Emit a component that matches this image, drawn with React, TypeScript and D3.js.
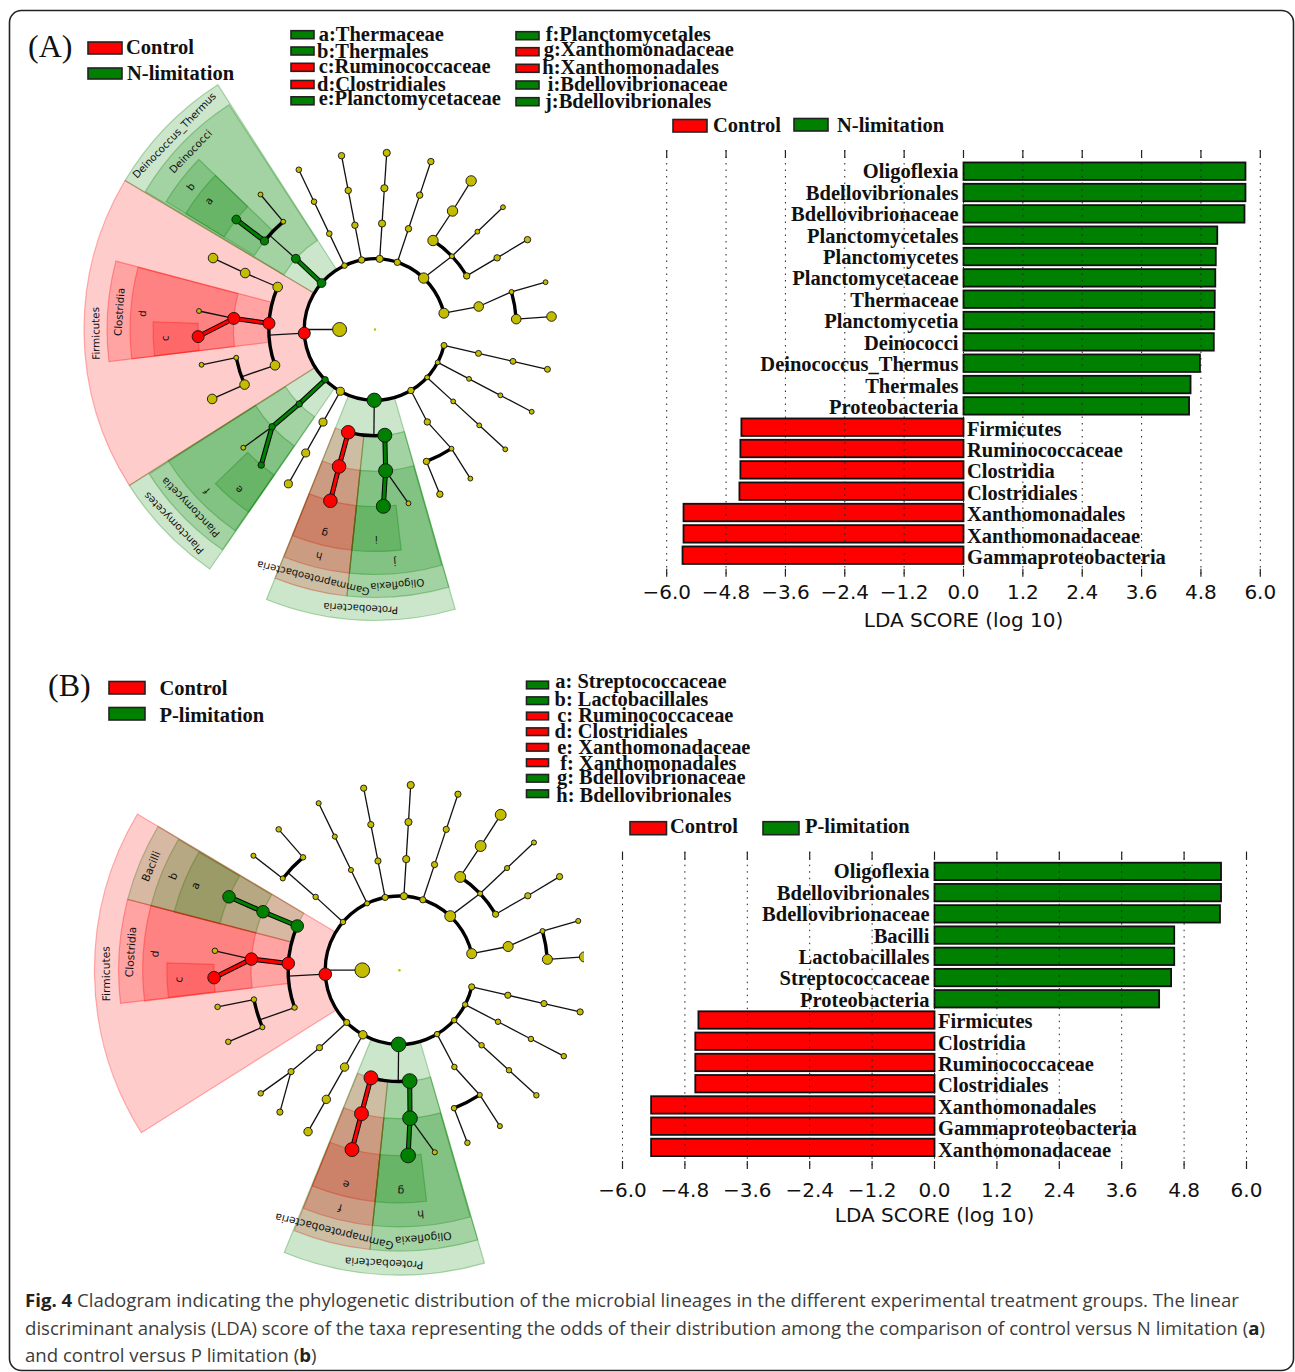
import React from 'react';
import * as d3 from 'd3';

const RED = '#ff0000';
const GREEN = '#008000';
const YELLOW = '#c4bc00';
const SERIF = '"Liberation Serif", serif';
const SANS = '"DejaVu Sans", sans-serif';

// LDA scores, top bar first
const taxaA = ['Oligoflexia', 'Bdellovibrionales', 'Bdellovibrionaceae', 'Planctomycetales', 'Planctomycetes', 'Planctomycetaceae', 'Thermaceae', 'Planctomycetia', 'Deinococci', 'Deinococcus_Thermus', 'Thermales', 'Proteobacteria', 'Firmicutes', 'Ruminococcaceae', 'Clostridia', 'Clostridiales', 'Xanthomonadales', 'Xanthomonadaceae', 'Gammaproteobacteria'];
const scoresA = [5.7, 5.7, 5.68, 5.13, 5.1, 5.09, 5.08, 5.07, 5.06, 4.78, 4.59, 4.56, -4.49, -4.51, -4.51, -4.53, -5.66, -5.66, -5.68];
const taxaB = ['Oligoflexia', 'Bdellovibrionales', 'Bdellovibrionaceae', 'Bacilli', 'Lactobacillales', 'Streptococcaceae', 'Proteobacteria', 'Firmicutes', 'Clostridia', 'Ruminococcaceae', 'Clostridiales', 'Xanthomonadales', 'Gammaproteobacteria', 'Xanthomonadaceae'];
const scoresB = [5.51, 5.51, 5.49, 4.61, 4.61, 4.55, 4.32, -4.54, -4.6, -4.6, -4.6, -5.45, -5.45, -5.45];
const ldaTicks = [-6, -4.8, -3.6, -2.4, -1.2, 0, 1.2, 2.4, 3.6, 4.8, 6];

const cladeKeyA = [['a:Thermaceae', 'g'], ['b:Thermales', 'g'], ['c:Ruminococcaceae', 'r'], ['d:Clostridiales', 'r'], ['e:Planctomycetaceae', 'g']];
const cladeKeyA2 = [['f:Planctomycetales', 'g'], ['g:Xanthomonadaceae', 'r'], ['h:Xanthomonadales', 'r'], ['i:Bdellovibrionaceae', 'g'], ['j:Bdellovibrionales', 'g']];
const cladeKeyB = [['a: Streptococcaceae', 'g'], ['b: Lactobacillales', 'g'], ['c: Ruminococcaceae', 'r'], ['d: Clostridiales', 'r'], ['e: Xanthomonadaceae', 'r'], ['f: Xanthomonadales', 'r'], ['g: Bdellovibrionaceae', 'g'], ['h: Bdellovibrionales', 'g']];

type Clade = { a: number; s: number; kids?: Clade[]; c?: string; j?: number };
// a = compass angle (deg, unwrapped), s = abundance, c = enriched class, j = where the parent's stem meets the arc over its kids
const n = (a: number, s: number, kids: Clade[] = [], c?: string, j?: number): Clade => ({ a, s, kids, c, j });
// unbranched lineage from a phylum down to the outer level
const path4 = (a: number, s: number) => n(a, s, [n(a, s, [n(a, s, [n(a, s)])])]);

const cladeA = n(0, 3, [n(270, 100, [
  path4(103, 18),
  path4(117.7, 12),
  path4(132.6, 12),
  n(149.5, 21, [n(150.5, 21, [n(147.3, 12, [n(147.4, 12)]), n(158.7, 21, [n(158.5, 21)])], undefined, 147.3)]),
  n(180.6, 105, [
    n(174.7, 100, [n(175.7, 100, [n(169.1, 12), n(177.3, 100, [], 'g')], 'g')], 'g'),
    n(194.6, 94, [n(194.7, 94, [n(194.6, 94, [], 'r')], 'r')], 'r'),
  ], 'g', 180.6),
  path4(209.3, 33),
  n(224.8, 21, [n(225.5, 21, [n(226.6, 21, [n(228.1, 12), n(220, 21, [], 'g')], 'g')], 'g')], 'g'),
  n(267, 73, [
    n(250.3, 47, [n(247.1, 47, [n(246.9, 47)]), n(258.5, 12, [n(258.5, 12)])], undefined, 250.5),
    n(273.3, 73, [n(274.5, 73, [n(267.7, 73, [], 'r'), n(276, 12)], 'r')], 'r'),
    n(293.6, 47, [n(293.5, 47, [n(293.8, 47)])]),
  ], 'r', 267),
  n(311, 39, [n(311.8, 39, [n(308.7, 33, [n(308.4, 39, [], 'g')], 'g'), n(319.6, 12, [n(319.7, 12)])], 'g', 311.8)], 'g'),
  path4(334.5, 16),
  path4(349.1, 21),
  path4(363.8, 26),
  path4(378.4, 21),
  n(403.4, 55, [
    n(393.1, 55, [n(393.2, 55, [n(392.9, 55)])]),
    n(406.4, 12, [n(406.3, 12, [n(406.3, 12)])]),
    n(419.7, 21, [n(419.6, 21, [n(419.5, 21)])]),
  ], undefined, 406.4),
  n(436.7, 51, [n(437.5, 47, [n(434.6, 12, [n(434.5, 12)]), n(445.8, 47, [n(445.8, 47)])], undefined, 434.6)]),
], undefined, 270)]);

const cladeB = n(0, 3, [n(270, 100, [
  path4(103, 18),
  path4(117.6, 14),
  path4(132.4, 14),
  n(149.5, 14, [n(150.4, 14, [n(147.2, 12, [n(147.2, 12)]), n(158.4, 14, [n(158.5, 14)])], undefined, 147.2)]),
  n(180.6, 100, [
    n(174.7, 100, [n(175.9, 100, [n(169, 12), n(177.3, 100, [], 'g')], 'g')], 'g'),
    n(194.8, 90, [n(194.8, 90, [n(194.8, 90, [], 'r')], 'r')], 'r'),
  ], 'g', 180.6),
  path4(209.5, 33),
  n(225.2, 18, [n(225.9, 18, [n(226.9, 18, [n(228.4, 14), n(220.1, 18)])])]),
  n(266.9, 73, [
    n(250.4, 14, [n(247.4, 12, [n(247.3, 14)]), n(258.6, 14, [n(258.6, 14)])], undefined, 250.4),
    n(273.5, 73, [n(274.3, 73, [n(267.7, 73, [], 'r'), n(276, 14)], 'r')], 'r'),
    n(293.4, 73, [n(293.2, 73, [n(293.3, 73, [], 'g')], 'g')], 'g'),
  ], 'r', 266.9),
  n(310.5, 14, [n(311.2, 14, [n(308.2, 12, [n(308.1, 12)]), n(319.5, 14, [n(319.4, 14)])], undefined, 311.2)]),
  path4(334.2, 12),
  path4(348.9, 18),
  path4(363.5, 24),
  path4(378.4, 18),
  n(403.2, 55, [
    n(393.1, 55, [n(393.2, 55, [n(393.1, 55)])]),
    n(406.5, 12, [n(406.5, 12, [n(406.5, 12)])]),
    n(419.8, 18, [n(419.9, 18, [n(419.7, 18)])]),
  ], undefined, 406.5),
  n(437.1, 47, [n(437.7, 47, [n(434.7, 12, [n(434.6, 12)]), n(445.8, 47, [n(445.9, 47)])], undefined, 434.7)]),
], undefined, 270)]);

type Sector = [string, number, number, number, string];
// label, start angle, end angle, taxonomic level, class
const sectorsA: Sector[] = [
  ['Firmicutes', 237.6, 300.8, 2, 'r'], ['Deinococcus_Thermus', 300.8, 327.3, 2, 'g'], ['Planctomycetes', 214.6, 237.6, 2, 'g'], ['Proteobacteria', 164, 201.9, 2, 'g'],
  ['Clostridia', 263.1, 284.8, 3, 'r'], ['Deinococci', 301, 327, 3, 'g'], ['Planctomycetia', 214.7, 237.4, 3, 'g'], ['Gammaproteobacteria', 186, 201.9, 3, 'r'], ['Oligoflexia', 164, 186, 3, 'g'],
  ['d', 263.1, 284.7, 4, 'r'], ['b', 301.5, 314, 4, 'g'], ['f', 214.8, 237.6, 4, 'g'], ['h', 186, 201.8, 4, 'r'], ['j', 164.2, 186, 4, 'g'],
  ['c', 263.2, 272, 5, 'r'], ['a', 301.5, 314, 5, 'g'], ['e', 214.7, 226, 5, 'g'], ['g', 186, 201.8, 5, 'r'], ['i', 173.2, 186, 5, 'g'],
];
const sectorsB: Sector[] = [
  ['Firmicutes', 237.8, 300.8, 2, 'r'], ['Proteobacteria', 163.8, 202.2, 2, 'g'],
  ['Bacilli', 284.6, 300.8, 3, 'g'], ['Clostridia', 263.2, 284.6, 3, 'r'], ['Gammaproteobacteria', 186, 202, 3, 'r'], ['Oligoflexia', 163.8, 186, 3, 'g'],
  ['b', 284.5, 300.6, 4, 'g'], ['d', 263.1, 284.6, 4, 'r'], ['f', 186, 202, 4, 'r'], ['h', 164, 186, 4, 'g'],
  ['a', 284.5, 300.5, 5, 'g'], ['c', 263.3, 271.8, 5, 'r'], ['e', 186, 202, 5, 'r'], ['g', 173.3, 186, 5, 'g'],
];

const colour = (c?: string) => (c === 'r' ? RED : c === 'g' ? GREEN : YELLOW);
const rad = (deg: number) => (deg * Math.PI) / 180;
const ringArc = d3.arc<any>();

function Cladogram({ cx, cy, unit, tree, sectors, clipX, id }: { cx: number; cy: number; unit: number; tree: Clade; sectors: Sector[]; clipX: number; id: string }) {
  const radius = d3.scaleLinear().domain([0, 5]).range([0, unit * 5]);
  const size = d3.scaleSqrt().domain([0, 100]).range([0, unit * 0.198]);
  const outer = d3.scaleLinear().domain([2, 5]).range([unit * 8.22, unit * 6.27]);
  const at = (a: number, depth: number) => d3.pointRadial(rad(a), radius(depth));
  const root = d3.hierarchy(tree, (d) => d.kids);
  const nodes = root.descendants();
  // deepest clades are painted first, the phylum wash goes over them
  const painted = [...sectors].sort((p, q) => q[3] - p[3]);

  const stems: React.ReactNode[] = [];
  nodes.forEach((p, i) => {
    if (p.depth === 0 || !p.children) return;
    const from = at(p.data.a, p.depth);
    if (p.data.j !== undefined) {
      const hit = at(p.data.j, p.depth + 1);
      const as = p.children.map((k) => k.data.a);
      const r = radius(p.depth + 1);
      stems.push(<line key={`s${i}`} x1={from[0]} y1={from[1]} x2={hit[0]} y2={hit[1]} stroke="#111" strokeWidth={1.3} />);
      stems.push(<path key={`a${i}`} d={ringArc({ innerRadius: r, outerRadius: r, startAngle: rad(d3.min(as)!), endAngle: rad(d3.max(as)!) })!} fill="none" stroke="#000" strokeWidth={3.4} />);
    } else {
      p.children.forEach((k, m) => {
        const to = at(k.data.a, k.depth);
        if (k.data.c) {
          stems.push(<line key={`o${i}-${m}`} x1={from[0]} y1={from[1]} x2={to[0]} y2={to[1]} stroke="#000" strokeWidth={5} />);
          stems.push(<line key={`c${i}-${m}`} x1={from[0]} y1={from[1]} x2={to[0]} y2={to[1]} stroke={colour(k.data.c)} strokeWidth={3} />);
        } else {
          stems.push(<line key={`t${i}-${m}`} x1={from[0]} y1={from[1]} x2={to[0]} y2={to[1]} stroke="#111" strokeWidth={1.3} />);
        }
      });
    }
  });

  return (
    <g clipPath={`url(#${id})`}>
      <clipPath id={id}>
        <rect x={0} y={0} width={clipX} height={1372} />
      </clipPath>
      <g transform={`translate(${cx},${cy})`}>
        {painted.map(([label, a0, a1, level, c]) => (
          <path
            key={label}
            d={ringArc({ innerRadius: radius(level), outerRadius: outer(level), startAngle: rad(a0), endAngle: rad(a1) })!}
            fill={colour(c)}
            fillOpacity={0.2}
            stroke={colour(c)}
            strokeOpacity={0.3}
            strokeWidth={1.2}
          />
        ))}
        {sectors.map(([label, a0, a1, level]) => {
          const mid = (a0 + a1) / 2;
          const [x, y] = d3.pointRadial(rad(mid), outer(level) - unit * 0.32);
          return (
            <text key={label} transform={`translate(${x},${y}) rotate(${mid})`} textAnchor="middle" dominantBaseline="central" fontFamily={SANS} fontSize={unit * 0.29} fill="#111">
              {label}
            </text>
          );
        })}
        {stems}
        {nodes.map((d, i) => {
          const [x, y] = at(d.data.a, d.depth);
          return <circle key={i} cx={x} cy={y} r={size(d.data.s)} fill={colour(d.data.c)} stroke={d.depth === 0 ? 'none' : '#111'} strokeWidth={0.9} />;
        })}
      </g>
    </g>
  );
}

function LdaBars({ taxa, scores, x0, x1, firstY, lastY, gridTop, gridBottom, tickY, titleY, drift }: { taxa: string[]; scores: number[]; x0: number; x1: number; firstY: number; lastY: number; gridTop: number; gridBottom: number; tickY: number; titleY: number; drift: number }) {
  const x = d3.scaleLinear().domain([-6, 6]).range([x0, x1]);
  const pitch = (lastY - firstY) / (taxa.length - 1);
  const y = d3.scaleBand<string>().domain(taxa).range([firstY - pitch / 2, lastY + pitch / 2]).paddingInner(0.18).paddingOuter(0.09);
  return (
    <g>
      {taxa.map((t, i) => {
        const v = scores[i];
        const cy = y(t)! + y.bandwidth() / 2;
        return (
          <g key={t}>
            <rect x={Math.min(x(v), x(0))} y={y(t)} width={Math.abs(x(v) - x(0))} height={y.bandwidth()} fill={v > 0 ? GREEN : RED} stroke="#111" strokeWidth={1.8} />
            <text x={v > 0 ? x(0) - 5 : x(0) + 3.5} y={cy + 7 + i * drift} textAnchor={v > 0 ? 'end' : 'start'} fontFamily={SERIF} fontWeight="bold" fontSize={20.5} fill="#111">
              {t}
            </text>
          </g>
        );
      })}
      {ldaTicks.map((t) => (
        <g key={t}>
          <line x1={x(t)} x2={x(t)} y1={gridTop} y2={gridBottom} stroke="#222" strokeWidth={1} strokeDasharray="1.5 5" />
          <line x1={x(t)} x2={x(t)} y1={gridTop} y2={gridTop + 8} stroke="#222" strokeWidth={1.2} />
          <line x1={x(t)} x2={x(t)} y1={gridBottom - 8} y2={gridBottom} stroke="#222" strokeWidth={1.2} />
          <text x={x(t)} y={tickY} textAnchor="middle" fontFamily={SANS} fontSize={20} fill="#111">
            {d3.format('.1f')(t)}
          </text>
        </g>
      ))}
      <text x={x(0)} y={titleY} textAnchor="middle" fontFamily={SANS} fontSize={20} fill="#111">
        LDA SCORE (log 10)
      </text>
    </g>
  );
}

function Swatch({ x, y, w, h, c }: { x: number; y: number; w: number; h: number; c: string }) {
  return <rect x={x} y={y} width={w} height={h} fill={colour(c)} stroke="#222" strokeWidth={1.6} />;
}

function Label({ x, y, size = 20.5, children }: { x: number; y: number; size?: number; children: React.ReactNode }) {
  return (
    <text x={x} y={y} fontFamily={SERIF} fontWeight="bold" fontSize={size} fill="#111">
      {children}
    </text>
  );
}

const keyRowsA = [[34.7, 40.8, 318.7], [51, 58, 317], [67.3, 72.7, 318.7], [84.5, 90.6, 317], [100.8, 105.3, 318.7]];
const keyRowsA2 = [[35.7, 41, 545.7], [51.7, 55.7, 543.7], [68.3, 74.3, 542.3], [85, 91, 547.7], [101.7, 108.3, 545]];
const keyRowsB = [[685, 687.7, 555.3], [700.7, 705.7, 554.6], [716, 721.7, 557.3], [731.7, 738.3, 554.6], [747.3, 753.7, 557.3], [762.7, 770, 560.3], [778.3, 784.3, 557], [793.7, 801.7, 556.3]];

function CaptionLine({ y, children }: { y: number; children: React.ReactNode }) {
  return (
    <text x={25} y={y} fontFamily='"Open Sans", sans-serif' fontSize={18.6} fill="#3c3c3c">
      {children}
    </text>
  );
}

export default function App() {
  return (
    <svg width={1295} height={1372} style={{ position: 'absolute', left: 0, top: 0, background: '#fff' }}>
      <rect x={9.5} y={10.5} width={1284} height={1360} rx={12} fill="#fff" stroke="#222" strokeWidth={1.6} />

      <text x={28} y={57} fontFamily={SERIF} fontSize={32} fill="#111">(A)</text>
      <Swatch x={88} y={42} w={34} h={12} c="r" />
      <Swatch x={88} y={68} w={34} h={11} c="g" />
      <Label x={126} y={54}>Control</Label>
      <Label x={127} y={79.5}>N-limitation</Label>
      {cladeKeyA.map(([t, c], i) => (
        <g key={t}>
          <Swatch x={291} y={keyRowsA[i][0] - 4} w={23} h={8} c={c} />
          <Label x={keyRowsA[i][2]} y={keyRowsA[i][1]}>{t}</Label>
        </g>
      ))}
      {cladeKeyA2.map(([t, c], i) => (
        <g key={t}>
          <Swatch x={516} y={keyRowsA2[i][0] - 4} w={23} h={8} c={c} />
          <Label x={keyRowsA2[i][2]} y={keyRowsA2[i][1]}>{t}</Label>
        </g>
      ))}
      <Cladogram id="cladeA" cx={375} cy={329.5} unit={35.4} tree={cladeA} sectors={sectorsA} clipX={1295} />
      <Swatch x={673} y={119.5} w={34} h={12.5} c="r" />
      <Label x={713} y={131.5}>Control</Label>
      <Swatch x={794} y={118.5} w={34} h={12.5} c="g" />
      <Label x={837} y={131.5}>N-limitation</Label>
      <LdaBars taxa={taxaA} scores={scoresA} x0={666.7} x1={1260.3} firstY={171.2} lastY={555.2} gridTop={150} gridBottom={576.7} tickY={599} titleY={626.5} drift={0.11} />

      <text x={48} y={696} fontFamily={SERIF} fontSize={32} fill="#111">(B)</text>
      <Swatch x={109} y={681.5} w={36} h={12.5} c="r" />
      <Swatch x={109} y={707.5} w={36} h={12.5} c="g" />
      <Label x={159.4} y={695}>Control</Label>
      <Label x={159.4} y={722}>P-limitation</Label>
      {cladeKeyB.map(([t, c], i) => (
        <g key={t}>
          <Swatch x={526.5} y={keyRowsB[i][0] - 3.8} w={22} h={7.6} c={c} />
          <Label x={keyRowsB[i][2]} y={keyRowsB[i][1]} size={20.4}>{t}</Label>
        </g>
      ))}
      <Cladogram id="cladeB" cx={399.4} cy={970.2} unit={37.1} tree={cladeB} sectors={sectorsB} clipX={584} />
      <Swatch x={630} y={821.7} w={36.5} h={13} c="r" />
      <Label x={670} y={833.3}>Control</Label>
      <Swatch x={763} y={821.7} w={36} h={13} c="g" />
      <Label x={805} y={833.3}>P-limitation</Label>
      <LdaBars taxa={taxaB} scores={scoresB} x0={622.5} x1={1246.5} firstY={871.4} lastY={1147.4} gridTop={851.7} gridBottom={1169} tickY={1197} titleY={1221.7} drift={0.17} />

      <CaptionLine y={1307.3}>
        <tspan fontWeight="bold" fill="#222">Fig. 4</tspan> Cladogram indicating the phylogenetic distribution of the microbial lineages in the different experimental treatment groups. The linear
      </CaptionLine>
      <CaptionLine y={1334.5}>
        discriminant analysis (LDA) score of the taxa representing the odds of their distribution among the comparison of control versus N limitation (<tspan fontWeight="bold" fill="#222">a</tspan>)
      </CaptionLine>
      <CaptionLine y={1361.5}>
        and control versus P limitation (<tspan fontWeight="bold" fill="#222">b</tspan>)
      </CaptionLine>
    </svg>
  );
}
